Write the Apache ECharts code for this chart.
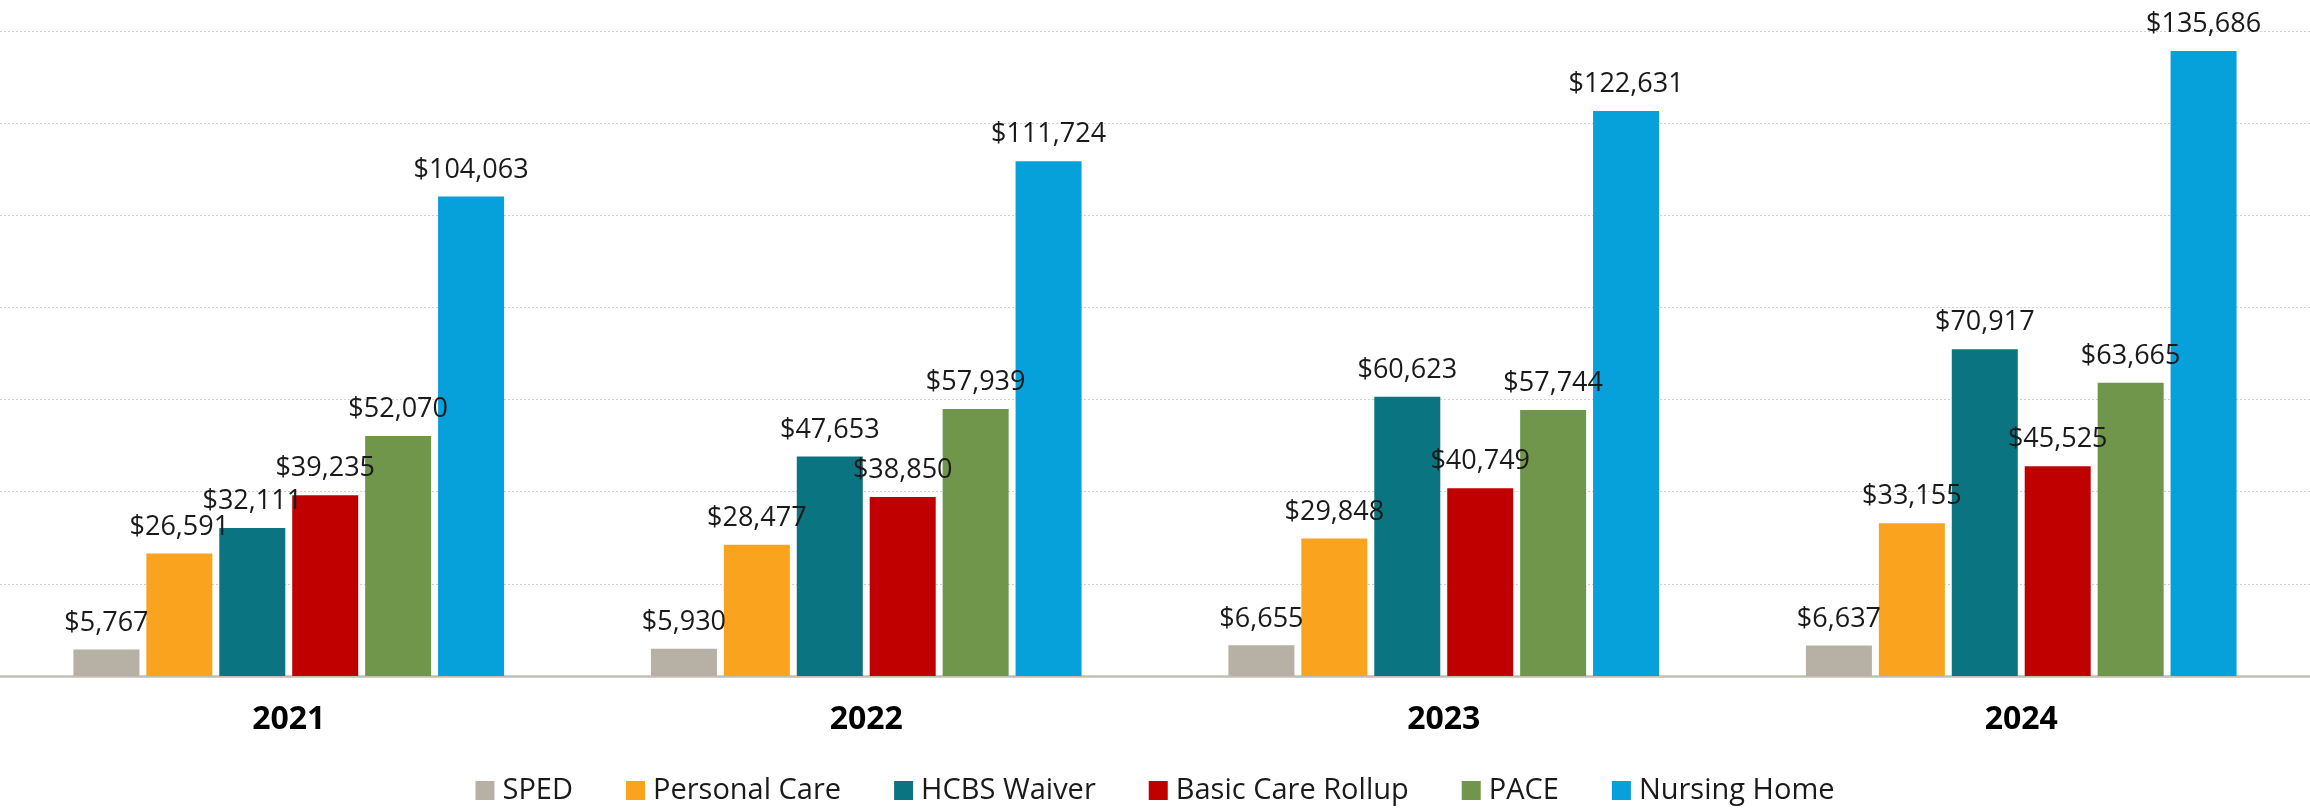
<!DOCTYPE html>
<html>
<head>
<meta charset="utf-8">
<script src="https://cdn.jsdelivr.net/npm/echarts@6/dist/echarts.min.js"></script>
<style>
  html, body { margin: 0; padding: 0; background: #fff; }
  #chart { width: 2310px; height: 808px; }
</style>
</head>
<body>
<div id="chart"></div>
<script>
// categories (years)
const years = ['2021', '2022', '2023', '2024'];

// cost per program, one array per series
const sped = [5767, 5930, 6655, 6637];
const personalCare = [26591, 28477, 29848, 33155];
const hcbsWaiver = [32111, 47653, 60623, 70917];
const basicCareRollup = [39235, 38850, 40749, 45525];
const pace = [52070, 57939, 57744, 63665];
const nursingHome = [104063, 111724, 122631, 135686];

const seriesList = [
  { name: 'SPED', data: sped, color: '#b7b0a4' },
  { name: 'Personal Care', data: personalCare, color: '#f9a31f' },
  { name: 'HCBS Waiver', data: hcbsWaiver, color: '#0a7480' },
  { name: 'Basic Care Rollup', data: basicCareRollup, color: '#c00000' },
  { name: 'PACE', data: pace, color: '#70964b' },
  { name: 'Nursing Home', data: nursingHome, color: '#06a0da' }
];

const fontFamily = '"Open Sans", "Noto Sans", sans-serif';
const money = v => '$' + v.toLocaleString('en-US');

const chart = echarts.init(document.getElementById('chart'));

chart.setOption({
  animation: false,
  backgroundColor: '#ffffff',
  textStyle: { fontFamily: fontFamily },
  grid: { left: 0, right: 0, top: 31, bottom: 132, containLabel: false },
  legend: {
    data: seriesList.map(s => s.name),
    top: 771,
    left: 'center',
    itemWidth: 19,
    itemHeight: 19,
    itemGap: 53,
    icon: 'rect',
    textStyle: { fontFamily: fontFamily, fontSize: 29, color: '#1a1a1a', padding: [0, 0, 0, 3] }
  },
  xAxis: {
    type: 'category',
    data: years,
    axisLine: { show: true, lineStyle: { color: '#c3beb3', width: 2.5 } },
    axisTick: { show: false },
    axisLabel: { margin: 28, fontFamily: fontFamily, fontSize: 32, fontWeight: 'bold', color: '#000' }
  },
  yAxis: {
    type: 'value',
    min: 0,
    max: 140000,
    interval: 20000,
    axisLabel: { show: false },
    axisLine: { show: false },
    axisTick: { show: false },
    splitLine: { show: true, lineStyle: { color: '#cfcfcf', type: [2, 2], width: 1 } }
  },
  series: seriesList.map(s => ({
    name: s.name,
    type: 'bar',
    data: s.data,
    barWidth: 66,
    barGap: '10.5%',
    itemStyle: { color: s.color },
    label: {
      show: true,
      position: 'top',
      distance: 13,
      formatter: p => money(p.value),
      fontFamily: fontFamily,
      fontSize: 27,
      color: '#1a1a1a'
    }
  }))
});
</script>
</body>
</html>
